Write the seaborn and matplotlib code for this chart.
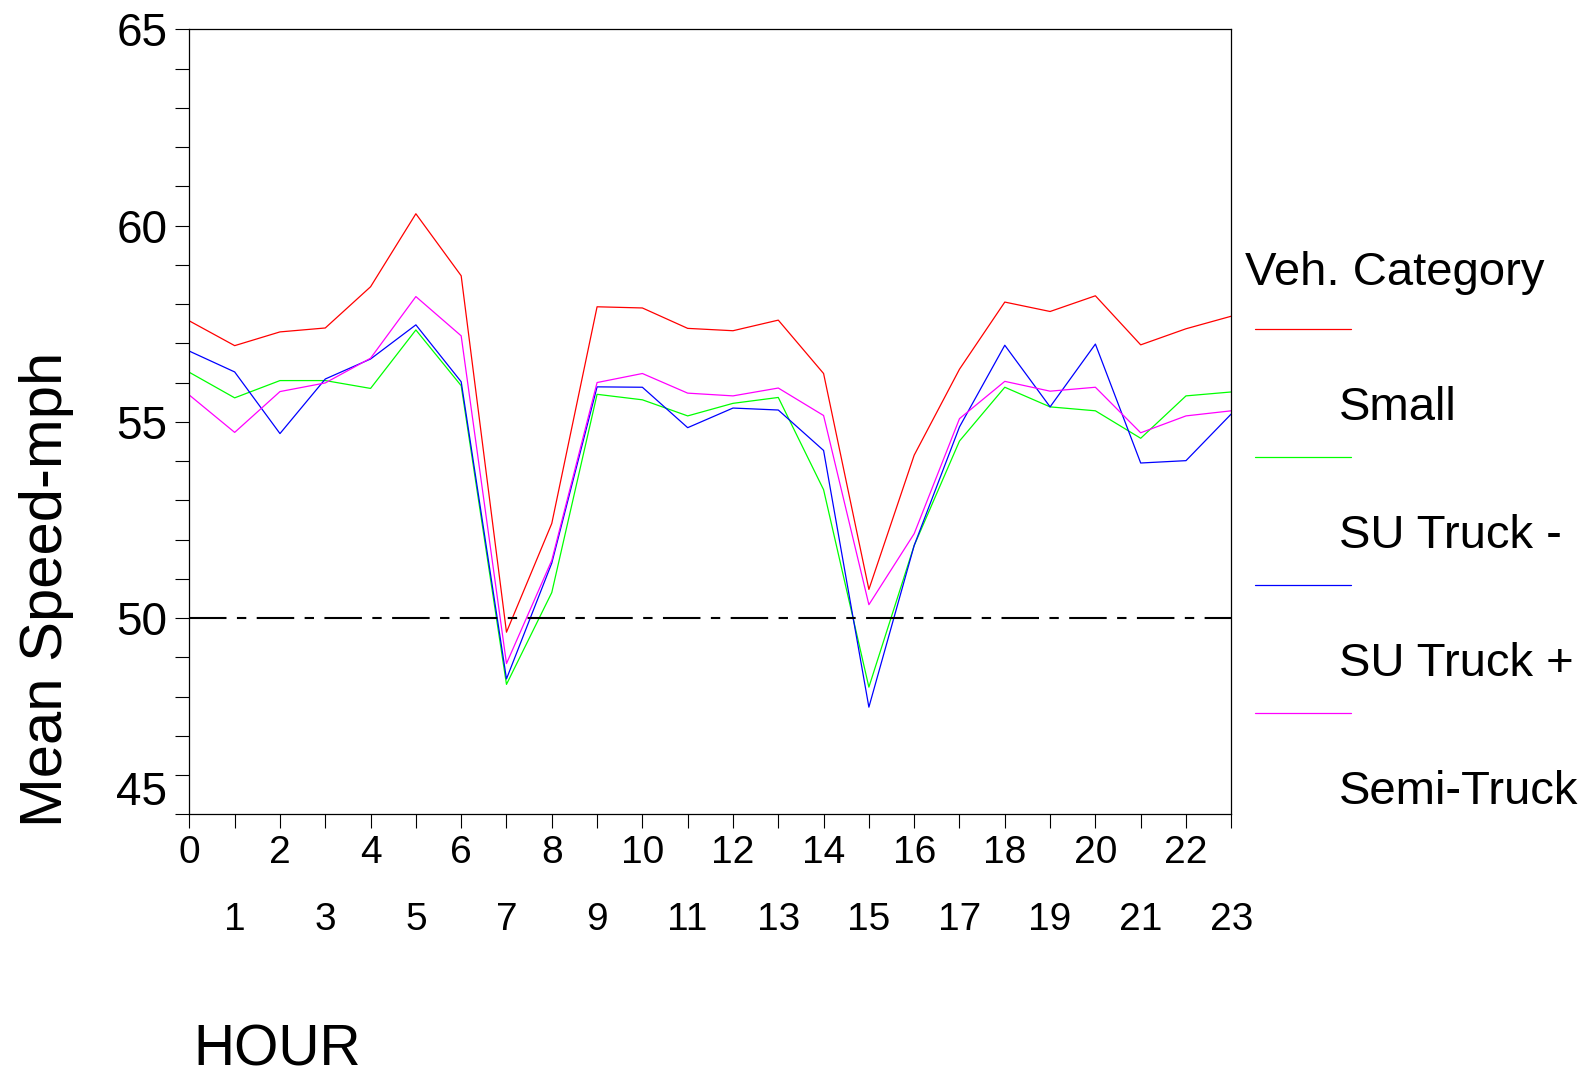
import pandas as pd
import matplotlib.pyplot as plt
import seaborn as sns
from matplotlib.lines import Line2D

# Mean speed by hour of day, per vehicle category
hours = list(range(24))
small = [57.57, 56.94, 57.29, 57.39, 58.44, 60.30, 58.72, 49.64, 52.41, 57.93, 57.90, 57.38,
         57.32, 57.59, 56.23, 50.73, 54.15, 56.34, 58.05, 57.81, 58.21, 56.96, 57.37, 57.69]
su_truck_minus = [56.26, 55.61, 56.05, 56.05, 55.85, 57.34, 55.92, 48.31, 50.65, 55.70, 55.56, 55.15,
                  55.47, 55.62, 53.27, 48.24, 51.85, 54.51, 55.88, 55.38, 55.28, 54.58, 55.66, 55.76]
su_truck_plus = [56.80, 56.27, 54.70, 56.09, 56.60, 57.47, 56.02, 48.45, 51.40, 55.89, 55.88, 54.85,
                 55.35, 55.30, 54.27, 47.73, 51.85, 54.87, 56.95, 55.38, 56.98, 53.95, 54.01, 55.20]
semi_truck = [55.68, 54.73, 55.77, 55.99, 56.62, 58.19, 57.19, 48.84, 51.47, 56.00, 56.23, 55.73,
              55.66, 55.86, 55.16, 50.34, 52.15, 55.08, 56.03, 55.78, 55.88, 54.72, 55.15, 55.28]

categories = ['Small', 'SU Truck -', 'SU Truck +', 'Semi-Truck']
colors = ['#ff0000', '#00ff00', '#0000ff', '#ff00ff']
reference_speed = 50

y_tick_values = [45.67, 50, 55, 60, 65]
y_tick_labels = ['45', '50', '55', '60', '65']

df = pd.DataFrame({
    'HOUR': hours * 4,
    'Speed': small + su_truck_minus + su_truck_plus + semi_truck,
    'Category': [c for c in categories for _ in hours],
})

sns.set_theme(style='white')
plt.rcParams['font.family'] = ['Liberation Sans', 'DejaVu Sans']
plt.rcParams['text.color'] = 'black'
plt.rcParams['xtick.color'] = 'black'
plt.rcParams['ytick.color'] = 'black'
plt.rcParams['xtick.labelcolor'] = 'black'
plt.rcParams['ytick.labelcolor'] = 'black'

fig = plt.figure(figsize=(15.9, 10.76), dpi=100)
ax = fig.add_axes([0.1191, 0.2432, 0.6553, 0.7296])

sns.lineplot(data=df, x='HOUR', y='Speed', hue='Category', hue_order=categories,
             palette=dict(zip(categories, colors)), linewidth=0.9, legend=False, ax=ax)

ax.axhline(reference_speed, color='black', linewidth=1.5, dashes=(18, 5, 4.5, 5))

ax.set_xlim(0, 23)
ax.set_ylim(45, 65)
ax.set_xlabel('')
ax.set_ylabel('')

# x axis: even hours on the first row, odd hours on the second
ax.set_xticks(list(range(0, 24, 2)))
ax.set_xticklabels([str(h) for h in range(0, 24, 2)])
ax.set_xticks(list(range(1, 24, 2)), minor=True)
ax.set_xticklabels([str(h) for h in range(1, 24, 2)], minor=True)
ax.tick_params(axis='x', which='both', direction='out', length=10, width=0.8,
               color='black', labelcolor='black', labelsize=28, bottom=True)
ax.tick_params(axis='x', which='major', pad=5)
ax.tick_params(axis='x', which='minor', pad=53)

ax.set_yticks(y_tick_values)
ax.set_yticklabels(y_tick_labels)
ax.set_yticks(list(range(45, 66)), minor=True)
ax.tick_params(axis='y', which='both', direction='out', length=10, width=0.8,
               color='black', labelcolor='black', labelsize=33, left=True, pad=6)
ax.yaxis.get_major_ticks()[0].tick1line.set_visible(False)

for spine in ax.spines.values():
    spine.set_color('black')
    spine.set_linewidth(0.9)
    spine.set_visible(True)

fig.text(0.029, 0.452, 'Mean Speed-mph', rotation=90, ha='center', va='center',
         fontsize=43, color='black')
fig.text(193 / 1590, 1 - 1065 / 1076, 'HOUR', fontsize=41, va='baseline', ha='left',
         color='black')

# legend: title, then a line sample above each label
fig.text(1245 / 1590, 1 - 284.6 / 1076, 'Veh. Category', fontsize=34, va='baseline',
         ha='left', color='black')
for i, (cat, col) in enumerate(zip(categories, colors)):
    y_line = 1 - (328.6 + 128 * i) / 1076
    fig.add_artist(Line2D([1255 / 1590, 1351 / 1590], [y_line, y_line], color=col, linewidth=0.9))
    fig.text(1339 / 1590, 1 - (420 + 128 * i) / 1076, cat, fontsize=34, va='baseline',
             ha='left', color='black')

plt.savefig('out.png', dpi=100)
plt.close()
